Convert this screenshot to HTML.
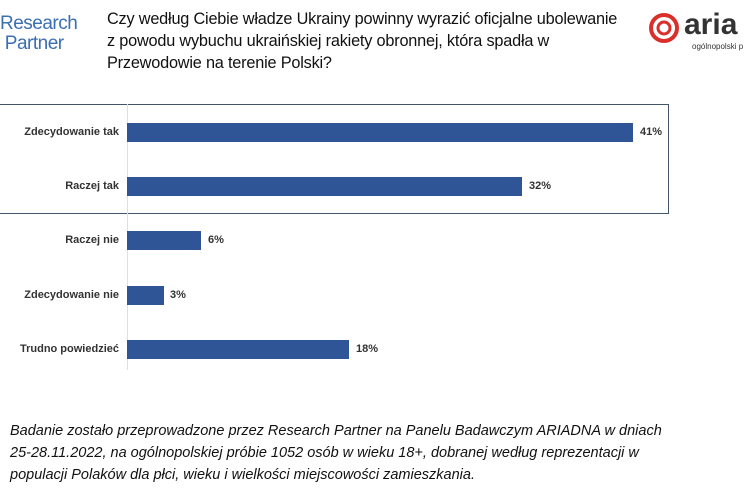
<!DOCTYPE html>
<html><head><meta charset="utf-8"><style>
body{margin:0;width:744px;height:495px;background:#fff;position:relative;overflow:hidden;font-family:"Liberation Sans",sans-serif}
.a{position:absolute}
.t{left:107px;top:8px;font-size:16.3px;line-height:22px;color:#111;letter-spacing:-0.2px}
.lab{font-size:11px;font-weight:bold;color:#333;right:625px;text-align:right;white-space:nowrap}
.bar{background:#2f5597;height:19px;left:127px}
.v{font-size:11px;font-weight:bold;color:#333}
.f{left:10px;top:420px;font-size:14.5px;font-style:italic;line-height:22px;color:#111;white-space:nowrap}
</style></head><body>
<div class="a" style="left:0;top:14px;font-size:19px;line-height:20px;color:#3a6fb0;letter-spacing:-0.5px">Research<br>&nbsp;Partner</div>
<div class="a t">Czy według Ciebie władze Ukrainy powinny wyrazić oficjalne ubolewanie<br>z powodu wybuchu ukraińskiej rakiety obronnej, która spadła w<br>Przewodowie na terenie Polski?</div>
<svg class="a" style="left:648px;top:12px" width="32" height="32"><circle cx="16" cy="16" r="13" fill="none" stroke="#d9302c" stroke-width="4"/><circle cx="16" cy="16" r="6" fill="none" stroke="#d9302c" stroke-width="3"/></svg>
<div class="a" style="left:684px;top:8px;font-size:30px;font-weight:bold;color:#333">aria</div>
<div class="a" style="left:692px;top:42px;font-size:8px;color:#333">ogólnopolski p</div>
<div class="a" style="left:-2px;top:104px;width:669px;height:108px;border:1.5px solid #44546a"></div>
<div class="a" style="left:127px;top:104px;width:1px;height:266px;background:#dde"></div>
<div class="a lab" style="top:126px">Zdecydowanie tak</div>
<div class="a bar" style="top:123px;width:506px"></div><div class="a v" style="left:640px;top:126px">41%</div>
<div class="a lab" style="top:180px">Raczej tak</div>
<div class="a bar" style="top:177px;width:395px"></div><div class="a v" style="left:529px;top:180px">32%</div>
<div class="a lab" style="top:234px">Raczej nie</div>
<div class="a bar" style="top:231px;width:74px"></div><div class="a v" style="left:208px;top:234px">6%</div>
<div class="a lab" style="top:289px">Zdecydowanie nie</div>
<div class="a bar" style="top:286px;width:37px"></div><div class="a v" style="left:170px;top:289px">3%</div>
<div class="a lab" style="top:343px">Trudno powiedzieć</div>
<div class="a bar" style="top:340px;width:222px"></div><div class="a v" style="left:356px;top:343px">18%</div>
<div class="a f">Badanie zostało przeprowadzone przez Research Partner na Panelu Badawczym ARIADNA w dniach<br>25-28.11.2022, na ogólnopolskiej próbie 1052 osób w wieku 18+, dobranej według reprezentacji w<br>populacji Polaków dla płci, wieku i wielkości miejscowości zamieszkania.</div>
</body></html>
